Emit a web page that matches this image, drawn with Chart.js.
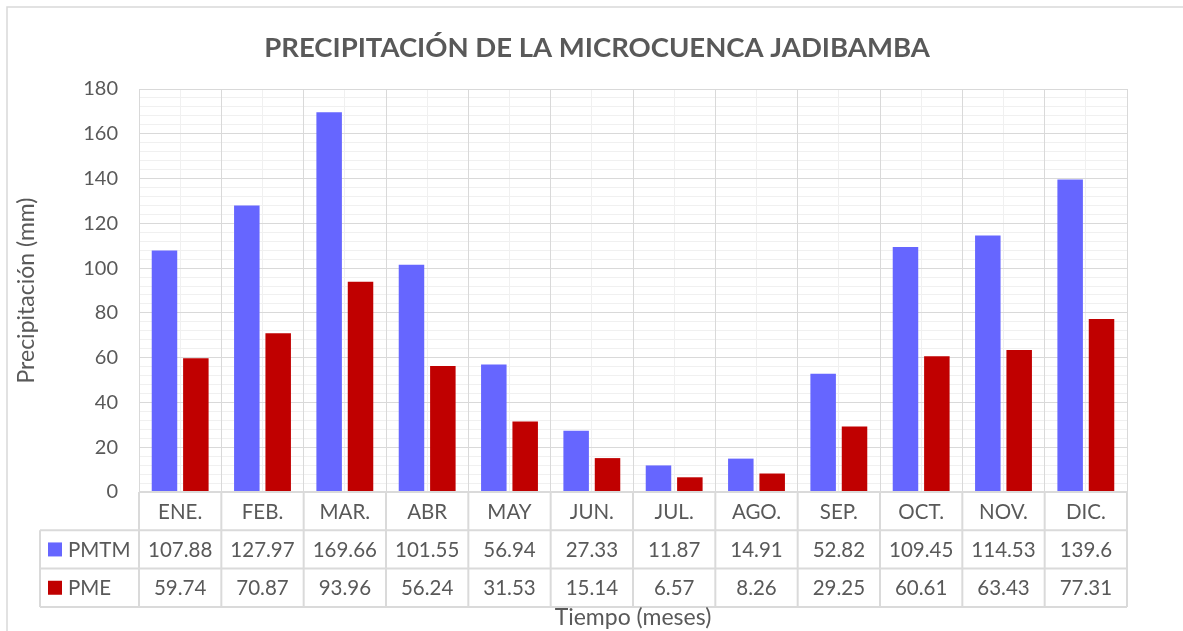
<!DOCTYPE html>
<html><head><meta charset="utf-8">
<script src="https://cdn.jsdelivr.net/npm/chart.js@4"></script>
<style>html,body{margin:0;padding:0;background:#fff;}canvas{display:block;}</style>
</head><body>
<canvas id="c" width="1183" height="631"></canvas>
<script>
const categories = ['ENE.','FEB.','MAR.','ABR','MAY','JUN.','JUL.','AGO.','SEP.','OCT.','NOV.','DIC.'];
const pmtm = [107.88,127.97,169.66,101.55,56.94,27.33,11.87,14.91,52.82,109.45,114.53,139.6];
const pme = [59.74,70.87,93.96,56.24,31.53,15.14,6.57,8.26,29.25,60.61,63.43,77.31];
const seriesNames = ['PMTM','PME'];
const seriesColors = ['#6666FF','#C00000'];
const titleText = 'PRECIPITACIÓN DE LA MICROCUENCA JADIBAMBA';
const yTitle = 'Precipitación (mm)';
const xTitle = 'Tiempo (meses)';

const TXT = '#595959';
const FONT = 'Lato';

const tablePlugin = {
  id: 'tablePlugin',
  afterDraw(chart) {
    const ctx = chart.ctx;
    const xs = chart.scales.x;
    const area = chart.chartArea;
    const n = categories.length;
    const colW = xs.getPixelForValue(1) - xs.getPixelForValue(0);
    const left = xs.getPixelForValue(0) - colW / 2;
    const right = xs.getPixelForValue(n - 1) + colW / 2;
    const rowH = 38.3;
    const y0 = area.bottom;
    const y1 = y0 + rowH, y2 = y1 + rowH, y3 = y2 + rowH;
    const legLeft = 40;
    ctx.save();
    // frame
    ctx.strokeStyle = '#d9d9d9';
    ctx.lineWidth = 1.5;
    ctx.beginPath();
    ctx.moveTo(7, 631); ctx.lineTo(7, 7); ctx.lineTo(1183, 7);
    ctx.stroke();
    // table lines
    ctx.strokeStyle = '#dadada';
    ctx.lineWidth = 2;
    ctx.beginPath();
    ctx.moveTo(left, y0); ctx.lineTo(right, y0);
    ctx.moveTo(legLeft, y1); ctx.lineTo(right, y1);
    ctx.moveTo(legLeft, y2); ctx.lineTo(right, y2);
    ctx.moveTo(legLeft, y3); ctx.lineTo(right, y3);
    ctx.moveTo(legLeft, y1); ctx.lineTo(legLeft, y3);
    for (let i = 0; i <= n; i++) {
      const x = left + i * colW;
      ctx.moveTo(x, y0); ctx.lineTo(x, y3);
    }
    ctx.stroke();
    // texts
    ctx.fillStyle = TXT;
    ctx.font = '20.5px ' + FONT;
    ctx.textAlign = 'center';
    ctx.textBaseline = 'middle';
    const rows = [pmtm, pme];
    for (let i = 0; i < n; i++) {
      const cx = xs.getPixelForValue(i);
      ctx.fillText(categories[i], cx, (y0 + y1) / 2 + 1);
      ctx.fillText(String(rows[0][i]), cx, (y1 + y2) / 2 + 1);
      ctx.fillText(String(rows[1][i]), cx, (y2 + y3) / 2 + 1);
    }
    // legend keys
    ctx.textAlign = 'left';
    [[y1, y2], [y2, y3]].forEach((r, k) => {
      const cy = (r[0] + r[1]) / 2;
      ctx.fillStyle = seriesColors[k];
      ctx.fillRect(48, cy - 7, 14, 14);
      ctx.fillStyle = TXT;
      ctx.fillText(seriesNames[k], 68, cy + 1);
    });
    // x axis title
    ctx.textAlign = 'center';
    ctx.font = '23px ' + FONT;
    ctx.fillText(xTitle, (left + right) / 2, 618);
    ctx.restore();
  }
};

new Chart(document.getElementById('c'), {
  type: 'bar',
  data: {
    labels: categories,
    datasets: [
      { label: seriesNames[0], data: pmtm, backgroundColor: seriesColors[0] },
      { label: seriesNames[1], data: pme, backgroundColor: seriesColors[1] }
    ]
  },
  options: {
    responsive: false,
    animation: false,
    devicePixelRatio: 1,
    layout: { padding: { left: 11, right: 0, top: 0, bottom: 139 } },
    datasets: { bar: { categoryPercentage: 0.762, barPercentage: 0.813 } },
    plugins: {
      legend: { display: false },
      tooltip: { enabled: false },
      title: {
        display: true, text: titleText, color: TXT,
        font: { family: FONT, size: 27.5, weight: 'bold' },
        padding: { top: 32, bottom: 24 }
      }
    },
    scales: {
      x: {
        offset: true,
        grid: { color: '#d9d9d9', offset: true, drawTicks: false },
        border: { display: false },
        ticks: { display: false },
        afterFit(s) { s.height = 0; }
      },
      xMinor: {
        type: 'category', axis: 'x', position: 'bottom', labels: categories, offset: true,
        grid: { color: '#f0f0f0', offset: false, drawTicks: false, z: -2 },
        border: { display: false },
        ticks: { display: false },
        afterFit(s) { s.height = 0; }
      },
      y: {
        min: 0, max: 180,
        ticks: { stepSize: 20, padding: 21, color: TXT, font: { family: FONT, size: 20 } },
        grid: { color: '#d9d9d9', drawTicks: false },
        border: { display: false },
        title: { display: true, text: yTitle, color: TXT, font: { family: FONT, size: 23 }, padding: { top: 2, bottom: 0 } },
        afterFit(s) { s.width = 128; }
      },
      yMinor: {
        type: 'linear', position: 'left', min: 0, max: 180,
        ticks: { display: false, stepSize: 4, maxTicksLimit: 100 },
        grid: { color: '#f0f0f0', drawTicks: false, z: -2 },
        border: { display: false },
        afterFit(s) { s.width = 0; }
      },
      yRight: {
        type: 'linear', position: 'right', min: 0, max: 180,
        ticks: { display: false },
        grid: { display: false, drawOnChartArea: false, drawTicks: false },
        border: { display: false },
        afterFit(s) { s.width = 56; }
      }
    }
  },
  plugins: [tablePlugin]
});
</script>
</body></html>
